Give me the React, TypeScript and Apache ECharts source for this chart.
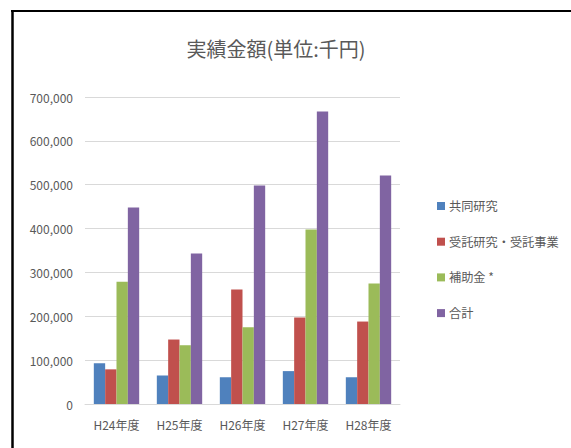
import React, { useEffect, useRef } from "react";
import * as echarts from "echarts";

const categories = ["H24年度", "H25年度", "H26年度", "H27年度", "H28年度"];
const seriesNames = ["共同研究", "受託研究・受託事業", "補助金 *", "合計"];
const kyodo = [93000, 65000, 61000, 75000, 61000];
const jutaku = [79000, 147000, 261000, 197000, 188000];
const hojo = [279000, 134000, 175000, 398000, 275000];
const gokei = [448000, 343000, 498000, 667000, 521000];
const colors = ["#4F81BD", "#C0504D", "#9BBB59", "#8064A2"];
const yTicks = { min: 0, max: 700000, interval: 100000 };

const FONT = '"Noto Sans CJK JP", "Noto Sans", sans-serif';

export default function App() {
  const ref = useRef<HTMLDivElement>(null);
  useEffect(() => {
    if (!ref.current) return;
    const chart = echarts.init(ref.current, null, { renderer: "svg" });
    const data = [kyodo, jutaku, hojo, gokei];
    chart.setOption({
      animation: false,
      backgroundColor: "#ffffff",
      textStyle: { fontFamily: FONT },
      title: {
        text: "実績金額(単位:千円)",
        left: 271,
        textAlign: "center",
        top: 33,
        textStyle: { fontSize: 20, fontWeight: "normal", color: "#595959", fontFamily: FONT },
      },
      legend: {
        orient: "vertical",
        left: 432,
        top: 194,
        itemWidth: 8,
        itemHeight: 8,
        itemGap: 21.7,
        icon: "rect",
        data: seriesNames,
        textStyle: { fontSize: 12.2, color: "#595959", lineHeight: 14, fontFamily: FONT, padding: [0, 0, 0, -1] },
      },
      grid: { left: 85, right: 171, top: 97, bottom: 44, containLabel: false },
      xAxis: {
        type: "category",
        data: categories,
        axisLine: { show: true, lineStyle: { color: "#D9D9D9", width: 1 } },
        axisTick: { show: false },
        axisLabel: { color: "#595959", fontSize: 12, margin: 14, fontFamily: FONT },
      },
      yAxis: {
        type: "value",
        min: yTicks.min,
        max: yTicks.max,
        interval: yTicks.interval,
        axisLine: { show: false },
        axisTick: { show: false },
        splitLine: { lineStyle: { color: "#D9D9D9", width: 1 } },
        axisLabel: {
          color: "#595959",
          fontSize: 12,
          margin: 12,
          fontFamily: FONT,
          formatter: (v: number) => v.toLocaleString("en-US"),
        },
      },
      series: seriesNames.map((name, i) => ({
        name,
        type: "bar",
        data: data[i],
        barGap: "0%",
        barCategoryGap: "28%",
        itemStyle: { color: colors[i] },
      })),
      graphic: [
        { type: "line", shape: { x1: 12.5, y1: 10, x2: 12.5, y2: 448 }, style: { stroke: "#000", lineWidth: 2.5 } },
        { type: "line", shape: { x1: 11, y1: 11, x2: 571, y2: 11 }, style: { stroke: "#000", lineWidth: 2 } },
      ],
    });
    return () => chart.dispose();
  }, []);
  return (
    <div
      ref={ref}
      style={{ position: "fixed", left: 0, top: 0, width: 571, height: 448 }}
    />
  );
}
